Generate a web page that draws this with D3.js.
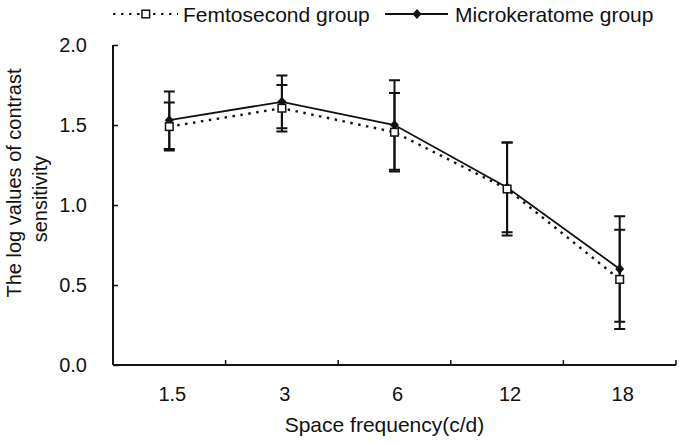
<!DOCTYPE html>
<html>
<head>
<meta charset="utf-8">
<script src="https://cdn.jsdelivr.net/npm/d3@7"></script>
<style>
  html, body { margin: 0; padding: 0; background: #fff; }
  svg { display: block; }
  text { font-family: "Liberation Sans", Arial, Helvetica, sans-serif; fill: #111; }
</style>
</head>
<body>
<svg id="chart" width="685" height="444"></svg>
<script>
// ---- data ----
const categories = ["1.5", "3", "6", "12", "18"];
const femtoMean = [1.49, 1.605, 1.455, 1.10, 0.535];
const femtoSD   = [0.15, 0.145, 0.245, 0.29, 0.31];
const microMean = [1.53, 1.645, 1.50, 1.11, 0.60];
const microSD   = [0.18, 0.165, 0.28, 0.28, 0.33];
const yTicks = [0, 0.5, 1.0, 1.5, 2.0];
const seriesNames = ["Femtosecond group", "Microkeratome group"];
const xTitle = "Space frequency(c/d)";
const yTitleLines = ["The log values of contrast", "sensitivity"];

// ---- layout ----
const svg = d3.select("#chart");
const plot = { left: 113, right: 676, top: 45, bottom: 365 };

const x = d3.scaleBand().domain(categories).range([plot.left, plot.right]).padding(0);
const y = d3.scaleLinear().domain([0, 2]).range([plot.bottom, plot.top]);
const cx = d => x(d) + x.bandwidth() / 2;

const femto = categories.map((c, i) => ({ c, m: femtoMean[i], sd: femtoSD[i] }));
const micro = categories.map((c, i) => ({ c, m: microMean[i], sd: microSD[i] }));

// ---- axes ----
const yAxis = d3.axisLeft(y).tickValues(yTicks).tickFormat(d3.format(".1f"))
  .tickSize(-5).tickPadding(26);
const gy = svg.append("g").attr("transform", `translate(${plot.left},0)`).call(yAxis);
gy.select(".domain").attr("d", `M0,${plot.top}V${plot.bottom}`).attr("stroke", "#111").attr("stroke-width", 2);
gy.selectAll(".tick line").attr("stroke", "#111").attr("stroke-width", 1.5);
gy.selectAll(".tick text").attr("font-size", 20).attr("font-family", "Liberation Sans, Arial, sans-serif").attr("fill", "#111");

const xAxis = d3.axisBottom(x).tickSize(0).tickPadding(22);
const gx = svg.append("g").attr("transform", `translate(0,${plot.bottom})`).call(xAxis);
gx.select(".domain").attr("d", `M${plot.left},0H${plot.right}`).attr("stroke", "#111").attr("stroke-width", 2);
gx.selectAll(".tick text").attr("font-size", 20).attr("font-family", "Liberation Sans, Arial, sans-serif").attr("fill", "#111").attr("dx", 3);

// x boundary ticks (inward)
const bounds = categories.map(c => x(c) + x.bandwidth()).concat([]);
svg.append("g").selectAll("line").data(bounds).join("line")
  .attr("x1", d => d).attr("x2", d => d)
  .attr("y1", plot.bottom).attr("y2", plot.bottom - 5)
  .attr("stroke", "#111").attr("stroke-width", 1.5);

// ---- error bars ----
function errorBars(data) {
  const g = svg.append("g").attr("stroke", "#111").attr("stroke-width", 2).attr("fill", "none");
  g.selectAll("path").data(data).join("path")
    .attr("d", d => {
      const X = cx(d.c), t = y(d.m + d.sd), b = y(d.m - d.sd), w = 5.5;
      return `M${X},${t}V${b}M${X - w},${t}H${X + w}M${X - w},${b}H${X + w}`;
    });
}
errorBars(femto);
errorBars(micro);

// ---- lines ----
const line = d3.line().x(d => cx(d.c)).y(d => y(d.m));
svg.append("path").datum(femto).attr("d", line)
  .attr("fill", "none").attr("stroke", "#111").attr("stroke-width", 2.4)
  .attr("stroke-dasharray", "2.5,5.5");
svg.append("path").datum(micro).attr("d", line)
  .attr("fill", "none").attr("stroke", "#111").attr("stroke-width", 1.8);

// ---- markers ----
const diamond = (X, Y, s) => `M${X},${Y - s}L${X + s * 0.9},${Y}L${X},${Y + s}L${X - s * 0.9},${Y}Z`;
svg.append("g").selectAll("path").data(micro).join("path")
  .attr("d", d => diamond(cx(d.c), y(d.m), 5)).attr("fill", "#111");
svg.append("g").selectAll("rect").data(femto).join("rect")
  .attr("x", d => cx(d.c) - 3.8).attr("y", d => y(d.m) - 3.8)
  .attr("width", 7.6).attr("height", 7.6)
  .attr("fill", "#fff").attr("stroke", "#111").attr("stroke-width", 1.5);

// ---- titles ----
svg.append("text").attr("x", (plot.left + plot.right) / 2 - 10).attr("y", 432)
  .attr("text-anchor", "middle").attr("font-size", 21).text(xTitle);

svg.append("text").attr("transform", "translate(21,183) rotate(-90)")
  .attr("text-anchor", "middle").attr("font-size", 20).text(yTitleLines[0]);
svg.append("text").attr("transform", "translate(47,199) rotate(-90)")
  .attr("text-anchor", "middle").attr("font-size", 20).text(yTitleLines[1]);

// ---- legend ----
const lg = svg.append("g");
const ly = 14;
lg.append("line").attr("x1", 113).attr("x2", 178).attr("y1", ly).attr("y2", ly)
  .attr("stroke", "#111").attr("stroke-width", 2.2).attr("stroke-dasharray", "2.5,5.5");
lg.append("rect").attr("x", 142).attr("y", ly - 3.8).attr("width", 7.6).attr("height", 7.6)
  .attr("fill", "#fff").attr("stroke", "#111").attr("stroke-width", 1.5);
lg.append("text").attr("x", 183).attr("y", ly + 7.5).attr("font-size", 21).text(seriesNames[0]);

lg.append("line").attr("x1", 385).attr("x2", 448).attr("y1", ly).attr("y2", ly)
  .attr("stroke", "#111").attr("stroke-width", 1.8);
lg.append("path").attr("d", diamond(417, ly, 5)).attr("fill", "#111");
lg.append("text").attr("x", 455).attr("y", ly + 7.5).attr("font-size", 21).text(seriesNames[1]);
</script>
</body>
</html>
